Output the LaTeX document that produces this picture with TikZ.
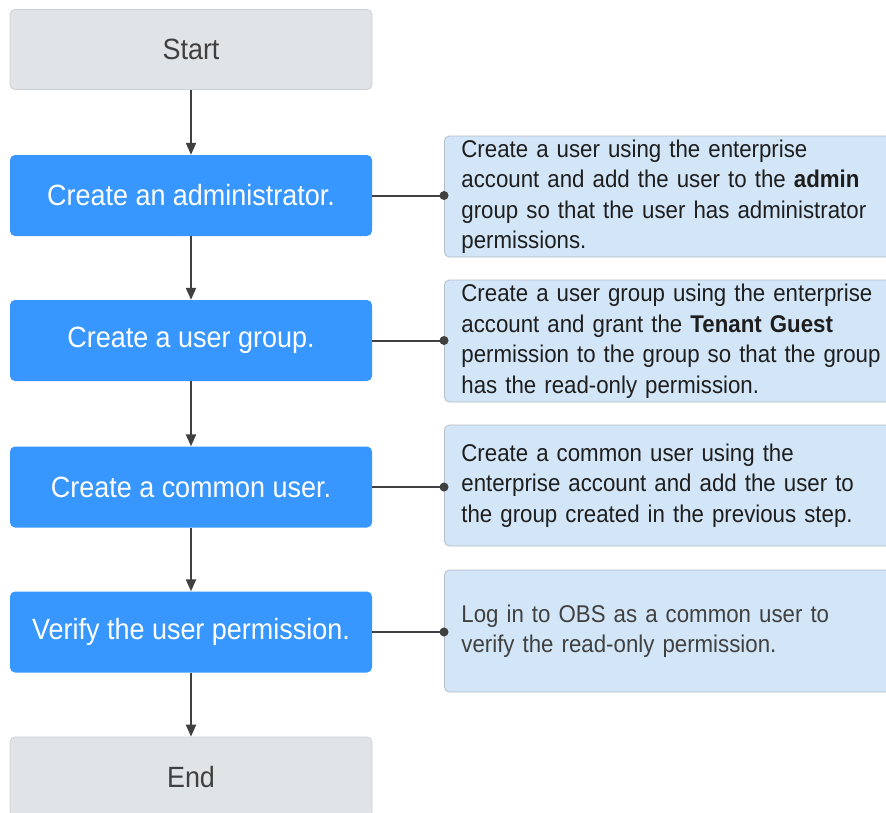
\documentclass[tikz,border=0pt]{standalone}
\usepackage{fontspec}
\setmainfont{Liberation Sans}
\newfontfamily\condfont[FakeStretch=0.92]{Liberation Sans}
\usetikzlibrary{arrows.meta}
\definecolor{stepblue}{RGB}{55,151,255}
\definecolor{termgrey}{RGB}{225,228,231}
\definecolor{termborder}{RGB}{205,208,212}
\definecolor{notefill}{RGB}{210,230,248}
\definecolor{noteborder}{RGB}{180,190,200}
\definecolor{linecol}{RGB}{64,64,64}
\definecolor{termtext}{RGB}{64,64,64}
\definecolor{notetext}{RGB}{30,30,30}
\tikzset{
  stepbox/.style={rectangle, rounded corners=5pt, fill=stepblue, draw=none,
    minimum width=362pt, minimum height=81pt, text=white,
    font=\condfont\fontsize{29.3}{33}\selectfont, inner sep=0pt},
  termbox/.style={rectangle, rounded corners=5pt, fill=termgrey, draw=termborder, line width=0.8pt,
    minimum width=362pt, minimum height=80pt, text=termtext,
    font=\condfont\fontsize{29.3}{33}\selectfont, inner sep=0pt},
  notebox/.style={rectangle, rounded corners=5pt, fill=notefill, draw=noteborder, line width=0.8pt,
    anchor=west, text width=470pt, inner xsep=17pt, inner ysep=0pt,
    align=left, text=notetext, font=\condfont\fontsize{24.2}{30.5}\selectfont},
  flow/.style={draw=linecol, line width=2pt, -{Triangle[length=12pt,width=10pt]}},
  link/.style={draw=linecol, line width=2pt},
  dot/.style={fill=linecol}
}
\begin{document}
\begin{tikzpicture}[x=1pt,y=-1pt]
\useasboundingbox (0,0) rectangle (886,812);
\clip (0,0) rectangle (886,812);
\fill[white] (0,0) rectangle (886,812);

\node[termbox] (start) at (191,49.5) {Start};
\node[stepbox] (admin) at (191,195.5) {Create an administrator.};
\node[stepbox] (group) at (191,340.5) {Create a user group.};
\node[stepbox] (common) at (191,487) {Create a common user.};
\node[stepbox] (verify) at (191,632) {Verify the user permission.};
\node[termbox] (end) at (191,777) {End};

\node[notebox, minimum height=121pt] (n1) at (444,196.5) {Create a user using the enterprise\\account and add the user to the \textbf{admin}\\group so that the user has administrator\\permissions.};
\node[notebox, minimum height=122pt] (n2) at (444,341) {Create a user group using the enterprise\\account and grant the \textbf{Tenant Guest}\\permission to the group so that the group\\has the read-only permission.};
\node[notebox, minimum height=121pt] (n3) at (444,485.5) {Create a common user using the\\enterprise account and add the user to\\the group created in the previous step.};
\node[notebox, minimum height=122pt, text=termtext] (n4) at (444,631) {Log in to OBS as a common user to\\verify the read-only permission.};

\draw[flow] (start) -- (admin);
\draw[flow] (admin) -- (group);
\draw[flow] (group) -- (common);
\draw[flow] (common) -- (verify);
\draw[flow] (verify) -- (end);

\foreach \a/\b in {admin/n1, group/n2, common/n3, verify/n4}{
  \draw[link] (\a.east) -- (\a.east -| \b.west);
  \fill[dot] (\a.east -| \b.west) circle (4.5pt);
}
\end{tikzpicture}
\end{document}
